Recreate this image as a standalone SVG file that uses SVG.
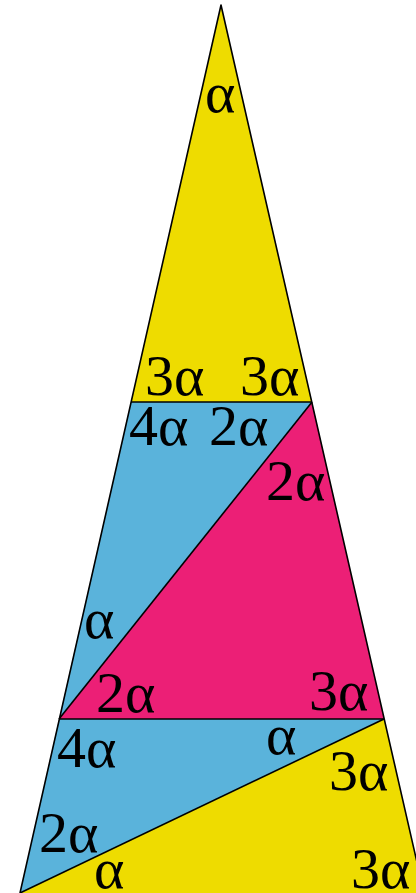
<svg xmlns="http://www.w3.org/2000/svg" width="416" height="893" viewBox="0 0 416 893">
<style>
.y{fill:#EEDC00}
.b{fill:#5AB3DB}
.p{fill:#EC1F76}
.e{fill:none;stroke:#000;stroke-width:1.6;stroke-linejoin:round}
text{font-family:"Liberation Serif","Times New Roman",serif;font-size:58px;fill:#000}
</style>
<g id="top-triangle"><polygon class="y" points="221,5 312,402 131,402"/></g>
<g id="upper-blue"><polygon class="b" points="131,402 312,402 59,719"/></g>
<g id="pink"><polygon class="p" points="312,402 384,719 59,719"/></g>
<g id="lower-blue"><polygon class="b" points="59,719 384,719 20,893"/></g>
<g id="lower-yellow"><polygon class="y" points="20,893 384,719 424,893"/></g>
<g id="connectors">
<polyline class="e" points="20,893 221,5 424,893"/>
<line class="e" x1="131" y1="402" x2="312" y2="402"/>
<line class="e" x1="312" y1="402" x2="59" y2="719"/>
<line class="e" x1="59" y1="719" x2="384" y2="719"/>
<line class="e" x1="384" y1="719" x2="20" y2="893"/>
</g>
<g id="labels">
<text x="205" y="112">α</text>
<text x="145" y="395">3α</text>
<text x="240" y="395">3α</text>
<text x="129" y="445">4α</text>
<text x="209" y="445">2α</text>
<text x="266" y="500">2α</text>
<text x="84" y="638">α</text>
<text x="96" y="712">2α</text>
<text x="309" y="710">3α</text>
<text x="57" y="767">4α</text>
<text x="266" y="754">α</text>
<text x="329" y="790">3α</text>
<text x="39" y="852">2α</text>
<text x="94" y="888">α</text>
<text x="351" y="888">3α</text>
</g>
</svg>
